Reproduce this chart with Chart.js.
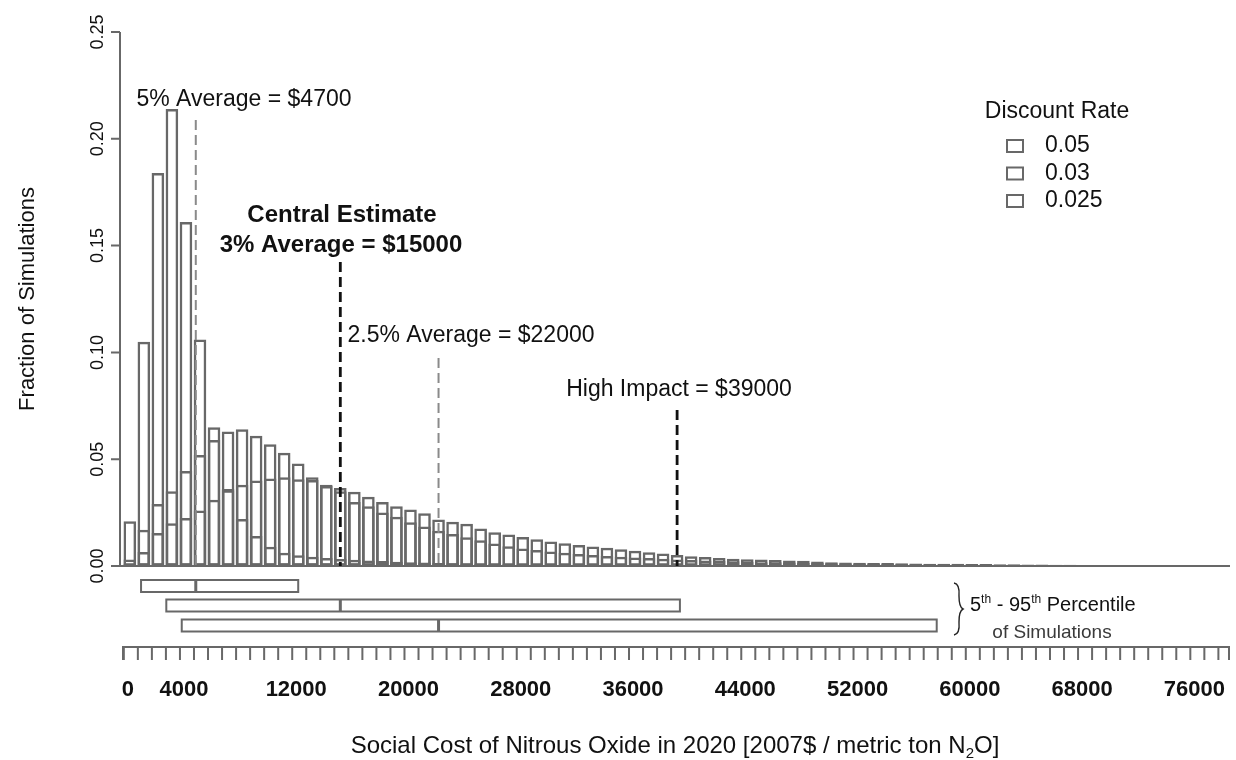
<!DOCTYPE html>
<html>
<head>
<meta charset="utf-8">
<script src="https://cdn.jsdelivr.net/npm/chart.js@4.4.1/dist/chart.umd.min.js"></script>
<style>
  html, body { margin: 0; padding: 0; background: #ffffff; }
  #wrap { width: 1236px; height: 760px; position: relative; }
</style>
</head>
<body>
<div id="wrap"><canvas id="scco" width="1236" height="760"></canvas></div>
<script>
// Histogram bins: centre of each $1000-wide bin (2007$ / metric ton N2O)
const binCenters = [
  0, 1000, 2000, 3000, 4000, 5000, 6000, 7000, 8000, 9000,
  10000, 11000, 12000, 13000, 14000, 15000, 16000, 17000, 18000, 19000,
  20000, 21000, 22000, 23000, 24000, 25000, 26000, 27000, 28000, 29000,
  30000, 31000, 32000, 33000, 34000, 35000, 36000, 37000, 38000, 39000,
  40000, 41000, 42000, 43000, 44000, 45000, 46000, 47000, 48000, 49000,
  50000, 51000, 52000, 53000, 54000, 55000, 56000, 57000, 58000, 59000,
  60000, 61000, 62000, 63000, 64000, 65000, 66000, 67000, 68000, 69000,
  70000, 71000, 72000, 73000, 74000, 75000, 76000, 77000, 78000
];

// Fraction of simulations per bin, discount rate 5%
const rate05 = [
  0.021, 0.105, 0.184, 0.214, 0.161, 0.106, 0.059, 0.036, 0.022, 0.014,
  0.009, 0.0062, 0.005, 0.0043, 0.0038, 0.0033, 0.0029, 0.0026, 0.0023, 0.002,
  0.0018, 0.0016, 0.0014, 0.0013, 0.0012, 0.0011, 0.001, 0.0009, 0.0008, 0.0007,
  0.0006, 0.0006, 0.0005, 0.0005, 0.0004, 0.0004, 0.0003, 0.0003, 0.0003, 0.0002,
  0.0002, 0.0002, 0.0002, 0.0001, 0.0001, 0.0001, 0.0001, 0, 0, 0,
  0, 0, 0, 0, 0, 0, 0, 0, 0, 0,
  0, 0, 0, 0, 0, 0, 0, 0, 0, 0,
  0, 0, 0, 0, 0, 0, 0, 0, 0
];

// Fraction of simulations per bin, discount rate 3%
const rate03 = [
  0.003, 0.017, 0.029, 0.035, 0.0445, 0.052, 0.065, 0.063, 0.064, 0.061,
  0.057, 0.053, 0.048, 0.0415, 0.0375, 0.035, 0.030, 0.028, 0.025, 0.023,
  0.0205, 0.0185, 0.0165, 0.015, 0.0135, 0.012, 0.0105, 0.0092, 0.0082, 0.0075,
  0.0068, 0.0062, 0.0056, 0.0051, 0.0047, 0.0043, 0.004, 0.0037, 0.0034, 0.0031,
  0.0028, 0.0026, 0.0024, 0.0022, 0.002, 0.0018, 0.0017, 0.0016, 0.0015, 0.0014,
  0.0013, 0.0012, 0.0011, 0.001, 0.0009, 0.0009, 0.0008, 0.0008, 0.0007, 0.0007,
  0.0006, 0.0006, 0.0005, 0.0005, 0.0004, 0.0004, 0.0004, 0.0003, 0.0003, 0.0003,
  0.0003, 0.0002, 0.0002, 0.0002, 0.0002, 0.0001, 0.0001, 0.0001, 0.0001
];

// Fraction of simulations per bin, discount rate 2.5%
const rate025 = [
  0.001, 0.0066, 0.0155, 0.020, 0.0225, 0.026, 0.031, 0.0355, 0.038, 0.040,
  0.041, 0.0415, 0.0406, 0.0403, 0.038, 0.0365, 0.0348, 0.0324, 0.030, 0.028,
  0.0265, 0.0247, 0.0218, 0.0207, 0.0198, 0.0176, 0.0158, 0.0148, 0.0136, 0.0125,
  0.0115, 0.0106, 0.0098, 0.0091, 0.0085, 0.0078, 0.0071, 0.0064, 0.0058, 0.0052,
  0.0046, 0.0042, 0.0038, 0.0034, 0.0032, 0.003, 0.0028, 0.0026, 0.0024, 0.0021,
  0.0017, 0.0016, 0.0015, 0.0014, 0.0014, 0.0013, 0.0012, 0.0011, 0.001, 0.001,
  0.0009, 0.0009, 0.0008, 0.0008, 0.0007, 0.0007, 0.0006, 0.0006, 0.0005, 0.0005,
  0.0005, 0.0004, 0.0004, 0.0004, 0.0003, 0.0003, 0.0003, 0.0002, 0.0002
];

const seriesLabels = ['0.05', '0.03', '0.025'];

// Mean of each distribution, and the high-impact value
const averages = [4700, 15000, 22000];
const highImpact = 39000;

// 5th and 95th percentiles of each distribution
const pctLow = [800, 2600, 3700];
const pctHigh = [12000, 39200, 57500];

const yTickValues = [0, 0.05, 0.10, 0.15, 0.20, 0.25];
const yTickLabels = ['0.00', '0.05', '0.10', '0.15', '0.20', '0.25'];
const xTickValues = [0, 4000, 12000, 20000, 28000, 36000, 44000, 52000, 60000, 68000, 76000];
const xTickLabels = ['0', '4000', '12000', '20000', '28000', '36000', '44000', '52000', '60000', '68000', '76000'];

const GREY = '#686868';
const FONT = '"Liberation Sans", Arial, Helvetica, sans-serif';

function toPoints(values) {
  return values.map((v, i) => ({ x: binCenters[i], y: v }));
}

// Text made of pieces, some raised (superscript) or lowered (subscript)
function richText(ctx, parts, x, y, size, weight, align) {
  const fontFor = p => `${weight} ${p.s ? Math.round(size * 0.62) : size}px ${FONT}`;
  const widths = parts.map(p => { ctx.font = fontFor(p); return ctx.measureText(p.t).width; });
  const total = widths.reduce((a, b) => a + b, 0);
  let cx = align === 'center' ? x - total / 2 : x;
  ctx.textAlign = 'left';
  ctx.textBaseline = 'alphabetic';
  parts.forEach((p, i) => {
    ctx.font = fontFor(p);
    const dy = p.s === 'sup' ? -size * 0.42 : (p.s === 'sub' ? size * 0.22 : 0);
    ctx.fillText(p.t, cx, y + dy);
    cx += widths[i];
  });
}

const decorations = {
  id: 'decorations',
  afterDatasetsDraw(chart) {
    const ctx = chart.ctx;
    const xs = chart.scales.x, ys = chart.scales.y;
    const px = v => xs.getPixelForValue(v);
    const py = v => ys.getPixelForValue(v);
    const area = chart.chartArea;

    ctx.save();
    ctx.strokeStyle = GREY;
    ctx.fillStyle = '#111';
    ctx.lineCap = 'butt';

    // baseline under the histogram
    ctx.lineWidth = 2;
    ctx.beginPath();
    ctx.moveTo(area.left, py(0));
    ctx.lineTo(area.right, py(0));
    ctx.stroke();

    // y axis: line, ticks, rotated labels
    ctx.beginPath();
    ctx.moveTo(area.left, py(0) + 1);
    ctx.lineTo(area.left, py(0.25));
    yTickValues.forEach(t => {
      ctx.moveTo(area.left, py(t));
      ctx.lineTo(area.left - 9, py(t));
    });
    ctx.stroke();
    ctx.font = `18px ${FONT}`;
    ctx.textAlign = 'center';
    ctx.textBaseline = 'middle';
    yTickValues.forEach((t, i) => {
      ctx.save();
      ctx.translate(98, py(t));
      ctx.rotate(-Math.PI / 2);
      ctx.fillText(yTickLabels[i], 0, 0);
      ctx.restore();
    });
    ctx.save();
    ctx.translate(28, (py(0) + py(0.25)) / 2);
    ctx.rotate(-Math.PI / 2);
    ctx.font = `22px ${FONT}`;
    ctx.fillText('Fraction of Simulations', 0, 0);
    ctx.restore();

    // vertical dashed markers for the averages and the high-impact value
    const markers = [
      { v: averages[0], top: 120, color: '#8a8a8a', w: 2 },
      { v: averages[1], top: 262, color: '#111', w: 2.8 },
      { v: averages[2], top: 358, color: '#8a8a8a', w: 2 },
      { v: highImpact, top: 410, color: '#111', w: 2.8 }
    ];
    markers.forEach(m => {
      ctx.save();
      ctx.strokeStyle = m.color;
      ctx.lineWidth = m.w;
      ctx.setLineDash([10, 5]);
      ctx.beginPath();
      ctx.moveTo(px(m.v), m.top);
      ctx.lineTo(px(m.v), py(0));
      ctx.stroke();
      ctx.restore();
    });

    // marker captions
    ctx.fillStyle = '#111';
    ctx.textAlign = 'center';
    ctx.textBaseline = 'middle';
    ctx.font = `23px ${FONT}`;
    ctx.fillText(`5% Average = $${averages[0]}`, 244, 100);
    ctx.font = `bold 24px ${FONT}`;
    ctx.fillText('Central Estimate', 342, 215);
    ctx.fillText(`3% Average = $${averages[1]}`, 341, 245);
    ctx.font = `23px ${FONT}`;
    ctx.fillText(`2.5% Average = $${averages[2]}`, 471, 336);
    ctx.fillText(`High Impact = $${highImpact}`, 679, 390);

    // legend
    ctx.fillText('Discount Rate', 1057, 112);
    ctx.textAlign = 'left';
    ctx.lineWidth = 2;
    chart.data.datasets.forEach((ds, i) => {
      const yc = 146 + i * 27.5;
      ctx.strokeStyle = ds.borderColor;
      ctx.strokeRect(1007, yc - 6, 16, 12);
      ctx.fillStyle = '#111';
      ctx.fillText(ds.label, 1045, yc);
    });

    // 5th-95th percentile ranges, with the mean marked
    ctx.strokeStyle = GREY;
    const boxRows = [586, 605.5, 625.5];
    boxRows.forEach((yc, i) => {
      const x0 = px(pctLow[i]), x1 = px(pctHigh[i]);
      ctx.lineWidth = 2;
      ctx.strokeRect(x0, yc - 6, x1 - x0, 12);
      ctx.lineWidth = 3;
      ctx.beginPath();
      ctx.moveTo(px(averages[i]), yc - 6);
      ctx.lineTo(px(averages[i]), yc + 6);
      ctx.stroke();
    });

    // brace and caption for the ranges
    ctx.lineWidth = 1.4;
    ctx.strokeStyle = '#222';
    ctx.beginPath();
    ctx.moveTo(954, 583);
    ctx.quadraticCurveTo(960, 584, 959, 596);
    ctx.quadraticCurveTo(959, 607, 963, 609);
    ctx.quadraticCurveTo(959, 611, 959, 622);
    ctx.quadraticCurveTo(960, 634, 954, 635);
    ctx.stroke();
    ctx.fillStyle = '#111';
    richText(ctx, [{ t: '5' }, { t: 'th', s: 'sup' }, { t: ' - 95' }, { t: 'th', s: 'sup' }, { t: ' Percentile' }],
      970, 611, 20, 'normal', 'left');
    ctx.fillStyle = '#3a3a3a';
    richText(ctx, [{ t: 'of Simulations' }], 1052, 638, 19, 'normal', 'center');

    // lower value axis with a tick every $1000
    ctx.strokeStyle = GREY;
    ctx.lineWidth = 2;
    ctx.beginPath();
    ctx.moveTo(area.left + 2, 647);
    ctx.lineTo(area.right, 647);
    ctx.moveTo(area.left + 3, 647);
    ctx.lineTo(area.left + 3, 660);
    for (let v = 0; v <= 78000; v += 1000) {
      ctx.moveTo(px(v) - 6, 647);
      ctx.lineTo(px(v) - 6, 660);
    }
    ctx.moveTo(area.right - 1, 647);
    ctx.lineTo(area.right - 1, 660);
    ctx.stroke();
    ctx.fillStyle = '#111';
    ctx.font = `bold 22px ${FONT}`;
    ctx.textAlign = 'center';
    ctx.textBaseline = 'middle';
    xTickValues.forEach((v, i) => {
      ctx.fillText(xTickLabels[i], px(v) - 2, 690);
    });

    // x axis title with subscript, centred on the plot
    richText(ctx, [{ t: 'Social Cost of Nitrous Oxide in 2020 [2007$ / metric ton N' }, { t: '2', s: 'sub' }, { t: 'O]' }],
      (area.left + area.right) / 2, 753, 24, 'normal', 'center');

    ctx.restore();
  }
};

const barStyle = {
  backgroundColor: 'rgba(0,0,0,0)',
  borderColor: GREY,
  borderWidth: 2.5,
  borderSkipped: false,
  grouped: false,
  barPercentage: 0.9,
  categoryPercentage: 1.0
};

new Chart(document.getElementById('scco'), {
  type: 'bar',
  data: {
    datasets: [
      Object.assign({ label: seriesLabels[0], data: toPoints(rate05) }, barStyle),
      Object.assign({ label: seriesLabels[1], data: toPoints(rate03) }, barStyle),
      Object.assign({ label: seriesLabels[2], data: toPoints(rate025) }, barStyle)
    ]
  },
  options: {
    responsive: false,
    animation: false,
    devicePixelRatio: 1,
    layout: { padding: { left: 120, right: 6, top: 32, bottom: 194 } },
    plugins: { legend: { display: false }, tooltip: { enabled: false } },
    scales: {
      x: { type: 'linear', min: -700, max: 78400, display: false, offset: false },
      y: { min: 0, max: 0.25, display: false }
    }
  },
  plugins: [decorations]
});
</script>
</body>
</html>
